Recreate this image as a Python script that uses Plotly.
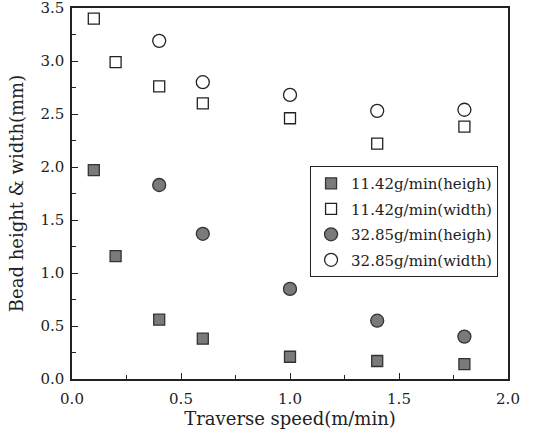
import plotly.graph_objects as go

speed_a = [0.1, 0.2, 0.4, 0.6, 1.0, 1.4, 1.8]
h_1142 = [1.97, 1.16, 0.56, 0.38, 0.21, 0.17, 0.14]
w_1142 = [3.40, 2.99, 2.76, 2.60, 2.46, 2.22, 2.38]
speed_b = [0.4, 0.6, 1.0, 1.4, 1.8]
h_3285 = [1.83, 1.37, 0.85, 0.55, 0.40]
w_3285 = [3.19, 2.80, 2.68, 2.53, 2.54]

names = ["11.42g/min(heigh)", "11.42g/min(width)", "32.85g/min(heigh)", "32.85g/min(width)"]

font = "DejaVu Serif, Liberation Serif, serif"
fig = go.Figure()
series = [
    (speed_a, h_1142, "square", "#7a7a7a", 11),
    (speed_a, w_1142, "square-open", "#222", 11),
    (speed_b, h_3285, "circle", "#7a7a7a", 13),
    (speed_b, w_3285, "circle-open", "#222", 13),
]
for i, (xs, ys, sym, col, sz) in enumerate(series):
    fig.add_trace(go.Scatter(
        x=xs, y=ys, mode="markers", name=names[i], legendgroup=str(i),
        marker=dict(symbol=sym, size=sz, color=col,
                    line=dict(color="#333", width=1.3)),
    ))

fig.update_layout(
    width=533, height=436,
    margin=dict(l=72, r=25, t=8, b=57, autoexpand=False),
    paper_bgcolor="white", plot_bgcolor="white",
    font=dict(family=font, size=15, color="#222"),
    showlegend=True,
    legend=dict(x=0.546, y=0.574, xanchor="left", yanchor="top",
                bgcolor="white", bordercolor="#222", borderwidth=1,
                font=dict(size=15), tracegroupgap=3,
                itemwidth=30, entrywidth=230),
)
fig.update_xaxes(
    range=[0, 2.0], dtick=0.5, tickformat=".1f", automargin=False,
    showline=True, linecolor="#222", linewidth=1.5, mirror=True,
    ticks="inside", ticklen=6, tickcolor="#222", ticklabelstandoff=5,
    minor=dict(ticks="inside", dtick=0.25, ticklen=4, tickcolor="#222"),
    showgrid=False, zeroline=False,
    title=dict(text="Traverse speed(m/min)", standoff=4),
)
fig.update_yaxes(
    range=[0, 3.5], dtick=0.5, tickformat=".1f", automargin=False,
    showline=True, linecolor="#222", linewidth=1.5, mirror=True,
    ticks="inside", ticklen=6, tickcolor="#222", ticklabelstandoff=3,
    ticklabeloverflow="allow",
    minor=dict(ticks="inside", dtick=0.25, ticklen=4, tickcolor="#222"),
    showgrid=False, zeroline=False,
    title=dict(text="Bead height & width(mm)", standoff=12),
)
fig.write_html("out.html", config={"displayModeBar": False},
               post_script="document.body.style.margin='0';")
